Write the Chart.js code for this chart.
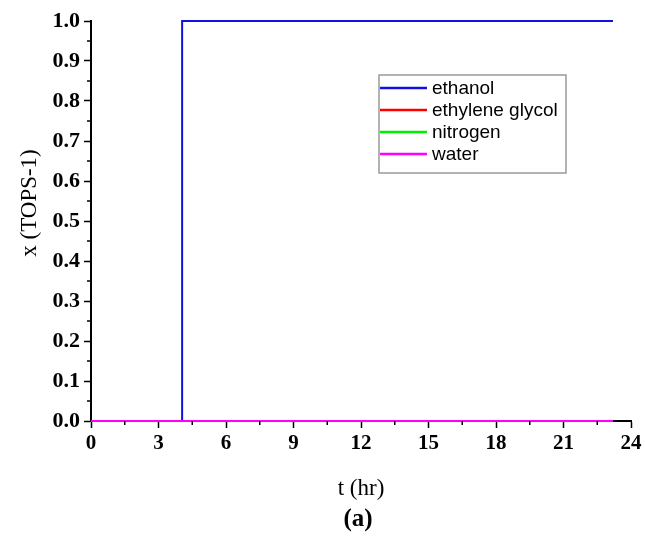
<!DOCTYPE html>
<html>
<head>
<meta charset="utf-8">
<script src="https://cdn.jsdelivr.net/npm/chart.js@4"></script>
<style>
  html, body { margin: 0; padding: 0; background: #fff; }
  #wrap { width: 645px; height: 537px; }
</style>
</head>
<body>
<div id="wrap"><canvas id="chart" width="645" height="537"></canvas></div>
<script>
// time axis (hr) and mole fractions at TOPS-1
const tHours = [0, 4.05, 4.05, 23.2];
const ethanol = [0, 0, 1, 1];
const ethyleneGlycol = [0, 0, 0, 0];
const nitrogen = [0, 0, 0, 0];
const water = [0, 0, 0, 0];

const seriesNames = ['ethanol', 'ethylene glycol', 'nitrogen', 'water'];
const seriesColors = ['#1010e0', '#ff0000', '#00ee00', '#ff00ff'];
const seriesValues = [ethanol, ethyleneGlycol, nitrogen, water];

const xTicks = [0, 3, 6, 9, 12, 15, 18, 21, 24];
const yTicks = [0.0, 0.1, 0.2, 0.3, 0.4, 0.5, 0.6, 0.7, 0.8, 0.9, 1.0];

const serif = '"Liberation Serif", "Times New Roman", serif';
const sans = '"Liberation Sans", Arial, sans-serif';

const datasets = seriesNames.map((name, i) => ({
    label: name,
    data: tHours.map((t, k) => ({ x: t, y: seriesValues[i][k] })),
    borderColor: seriesColors[i],
    borderWidth: 2,
    pointRadius: 0,
    fill: false,
    tension: 0,
    clip: false,
    order: seriesNames.length - i   // water ends up on top
}));

// short ticks half way between the labelled ones
const minorTicks = {
    id: 'minorTicks',
    afterDraw(chart) {
        const ctx = chart.ctx;
        const xs = chart.scales.x, ys = chart.scales.y;
        const area = chart.chartArea;
        ctx.save();
        ctx.strokeStyle = '#000';
        ctx.lineWidth = 1.5;
        ctx.beginPath();
        for (let i = 0; i < xTicks.length - 1; i++) {
            const px = xs.getPixelForValue((xTicks[i] + xTicks[i + 1]) / 2);
            ctx.moveTo(px, area.bottom);
            ctx.lineTo(px, area.bottom + 4);
        }
        for (let i = 0; i < yTicks.length - 1; i++) {
            const py = ys.getPixelForValue((yTicks[i] + yTicks[i + 1]) / 2);
            ctx.moveTo(area.left, py);
            ctx.lineTo(area.left - 4, py);
        }
        ctx.stroke();
        ctx.restore();
    }
};

// y axis title (a little above the axis middle) and the panel tag under the x title
const extraText = {
    id: 'extraText',
    afterDraw(chart) {
        const ctx = chart.ctx;
        const ys = chart.scales.y;
        const area = chart.chartArea;
        ctx.save();
        ctx.fillStyle = '#000';
        ctx.textAlign = 'center';
        ctx.textBaseline = 'middle';

        ctx.save();
        ctx.translate(30, ys.getPixelForValue(0.545));
        ctx.rotate(-Math.PI / 2);
        ctx.font = '23px ' + serif;
        ctx.fillText('x (TOPS-1)', 0, 0);
        ctx.restore();

        ctx.font = 'bold 25px ' + serif;
        ctx.fillText('(a)', (area.left + area.right) / 2 - 3, 520);
        ctx.restore();
    }
};

// boxed legend in the upper right of the plot
const boxLegend = {
    id: 'boxLegend',
    afterDraw(chart) {
        const ctx = chart.ctx;
        const area = chart.chartArea;
        const left = area.left + 288, top = area.top + 54;
        const w = 187, h = 98, row = 22;
        ctx.save();
        ctx.strokeStyle = '#9a9a9a';
        ctx.lineWidth = 1.5;
        ctx.strokeRect(left, top, w, h);
        ctx.font = '19px ' + sans;
        ctx.textBaseline = 'middle';
        chart.data.datasets.forEach((ds, i) => {
            const y = top + 13 + i * row;
            ctx.strokeStyle = ds.borderColor;
            ctx.lineWidth = 2.5;
            ctx.beginPath();
            ctx.moveTo(left + 1, y);
            ctx.lineTo(left + 48, y);
            ctx.stroke();
            ctx.fillStyle = '#000';
            ctx.fillText(ds.label, left + 53, y + 1);
        });
        ctx.restore();
    }
};

new Chart(document.getElementById('chart'), {
    type: 'line',
    data: { datasets },
    options: {
        responsive: false,
        animation: false,
        layout: { padding: { top: 21, right: 14, left: 0, bottom: 0 } },
        plugins: {
            legend: { display: false },
            tooltip: { enabled: false }
        },
        scales: {
            x: {
                type: 'linear',
                min: 0,
                max: 24,
                afterBuildTicks: s => { s.ticks = xTicks.map(v => ({ value: v })); },
                afterFit: s => { s.height = 116; },
                ticks: {
                    color: '#000',
                    font: { family: serif, size: 21, weight: 'bold' },
                    padding: 3,
                    maxRotation: 0,
                    callback: v => String(v)
                },
                grid: { drawOnChartArea: false, tickLength: 7, tickColor: '#000', tickWidth: 1.5 },
                border: { color: '#000', width: 2 },
                title: {
                    display: true,
                    text: 't (hr)',
                    color: '#000',
                    font: { family: serif, size: 23 },
                    padding: { top: 0, bottom: 34 }
                }
            },
            y: {
                min: 0,
                max: 1,
                afterBuildTicks: s => { s.ticks = yTicks.map(v => ({ value: v })); },
                afterFit: s => { s.width = 91; },
                ticks: {
                    color: '#000',
                    font: { family: serif, size: 22, weight: 'bold' },
                    padding: 4,
                    callback: v => Number(v).toFixed(1)
                },
                grid: { drawOnChartArea: false, tickLength: 7, tickColor: '#000', tickWidth: 1.5 },
                border: { color: '#000', width: 2 }
            }
        }
    },
    plugins: [minorTicks, extraText, boxLegend]
});
</script>
</body>
</html>
